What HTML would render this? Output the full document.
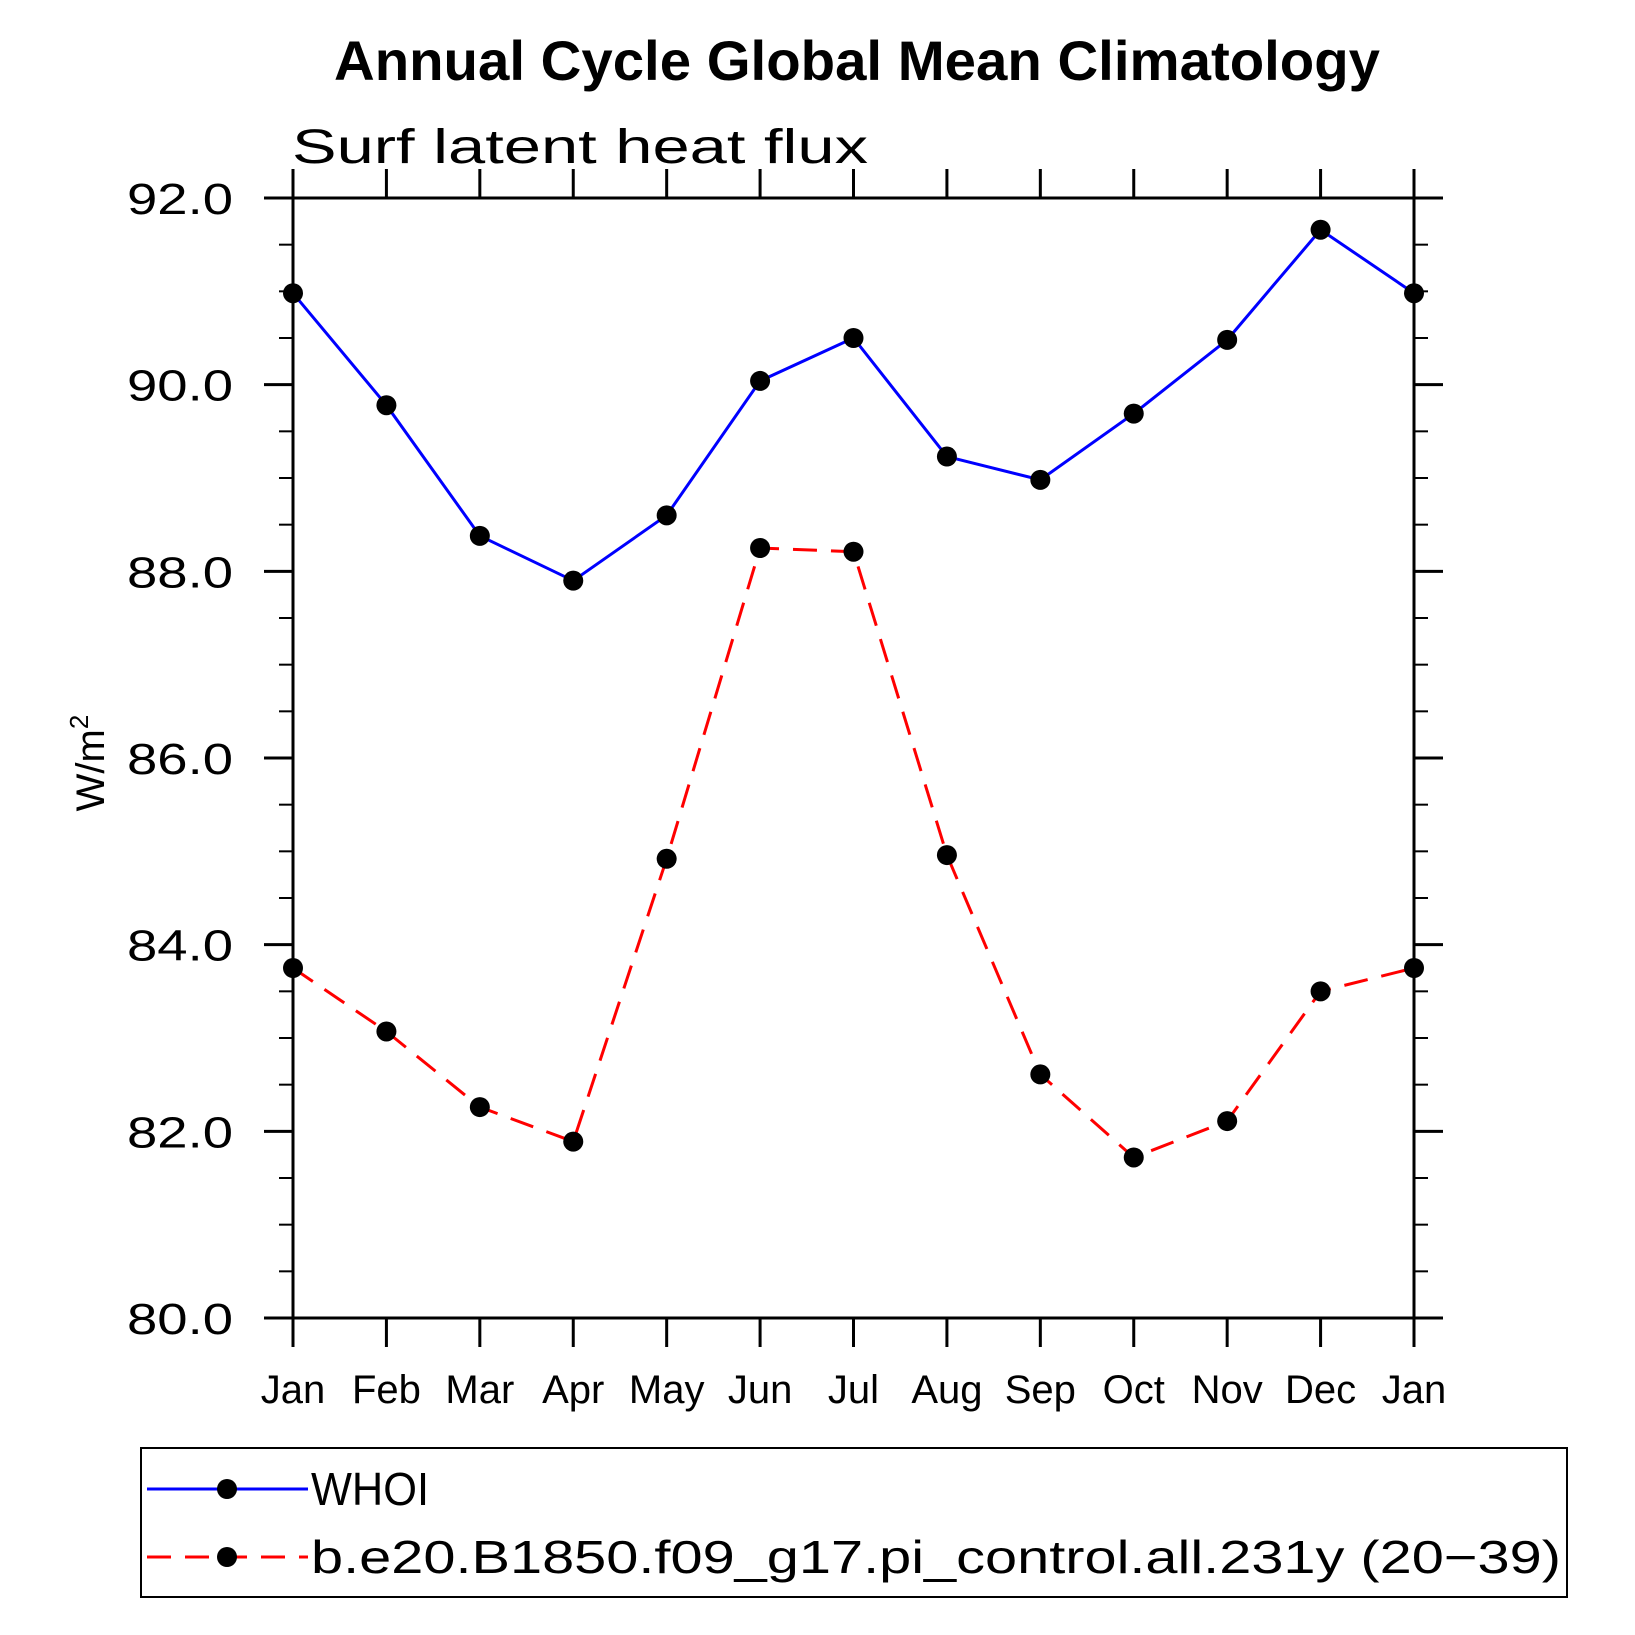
<!DOCTYPE html>
<html><head><meta charset="utf-8"><style>
html,body{margin:0;padding:0;background:#fff;}
svg{display:block;font-family:"Liberation Sans",sans-serif;}
</style></head><body>
<svg id="chart" width="1635" height="1635" viewBox="0 0 1635 1635">
<text x="857" y="80" text-anchor="middle" font-size="56" font-weight="bold" textLength="1046" lengthAdjust="spacingAndGlyphs">Annual Cycle Global Mean Climatology</text>
<text x="292" y="163" font-size="48" textLength="576" lengthAdjust="spacingAndGlyphs">Surf latent heat flux</text>
<text transform="translate(104,763) rotate(-90)" text-anchor="middle" font-size="40">W/m<tspan dy="-16" font-size="26">2</tspan></text>
<g id="axes"></g>
<g id="series"></g>
<g id="legend">
<rect x="141" y="1448" width="1426" height="149" fill="none" stroke="#000" stroke-width="2"/>
<line x1="147" y1="1489" x2="308" y2="1489" stroke="#0000ff" stroke-width="3"/>
<circle cx="227" cy="1489" r="10" fill="#000"/>
<text x="311" y="1505" font-size="46" textLength="118" lengthAdjust="spacingAndGlyphs">WHOI</text>
<line x1="147" y1="1557" x2="308" y2="1557" stroke="#ff0000" stroke-width="3" stroke-dasharray="24,14"/>
<circle cx="227" cy="1557" r="10" fill="#000"/>
<text x="311" y="1573" font-size="46" textLength="1250" lengthAdjust="spacingAndGlyphs">b.e20.B1850.f09_g17.pi_control.all.231y (20−39)</text>
</g>
</svg>
<script>
const months = ["Jan","Feb","Mar","Apr","May","Jun","Jul","Aug","Sep","Oct","Nov","Dec","Jan"];
const whoi = [90.98,89.78,88.38,87.90,88.60,90.04,90.50,89.23,88.98,89.69,90.48,91.66,90.98];
const model = [83.75,83.07,82.26,81.89,84.92,88.25,88.21,84.96,82.61,81.72,82.11,83.50,83.75];
const yTicks = [80,82,84,86,88,90,92];
const yTickLabels = ["80.0","82.0","84.0","86.0","88.0","90.0","92.0"];

const L=293,R=1414,T=198,B=1318,yMin=80,yMax=92;
const NS="http://www.w3.org/2000/svg";
function X(i){return L+(R-L)*i/(months.length-1);}
function Y(v){return B-(B-T)*(v-yMin)/(yMax-yMin);}
function mk(tag,attrs,parent){const e=document.createElementNS(NS,tag);for(const k in attrs)e.setAttribute(k,attrs[k]);parent.appendChild(e);return e;}
const axes=document.getElementById('axes'), ser=document.getElementById('series');

let f=mk('rect',{x:L,y:T,width:R-L,height:B-T,fill:'none',stroke:'#000','stroke-width':3},axes);


for(let v=yMin;v<=yMax+1e-9;v+=0.5){
  const major=Math.abs(v-Math.round(v/2)*2)<1e-9;
  const len=major?29:14;
  let t1=mk('line',{x1:L-len,y1:Y(v),x2:L,y2:Y(v),stroke:'#000','stroke-width':major?3:2},axes);
  
  
  let t2=mk('line',{x1:R,y1:Y(v),x2:R+len,y2:Y(v),stroke:'#000','stroke-width':major?3:2},axes);
  
  
}
yTicks.forEach((v,i)=>{
  let t=mk('text',{x:127,y:Y(v)+16,'font-size':44,textLength:106,lengthAdjust:'spacingAndGlyphs'},axes);
  t.textContent=yTickLabels[i];
  
  
});
months.forEach((m,i)=>{
  let a=mk('line',{x1:X(i),y1:B,x2:X(i),y2:B+29,stroke:'#000','stroke-width':3},axes);
  
  
  let b=mk('line',{x1:X(i),y1:T-29,x2:X(i),y2:T,stroke:'#000','stroke-width':3},axes);
  
  
  let t=mk('text',{x:X(i),y:1403,'text-anchor':'middle','font-size':40},axes);
  t.textContent=m;
  
  
});
function drawSeries(vals,color,dash,name){
  const pts=vals.map((v,i)=>X(i)+','+Y(v)).join(' ');
  const attrs={points:pts,fill:'none',stroke:color,'stroke-width':3};
  if(dash)attrs['stroke-dasharray']=dash;
  let p=mk('polyline',attrs,ser);
  
  
  vals.forEach((v,i)=>{
    let c=mk('circle',{cx:X(i),cy:Y(v),r:10,fill:'#000'},ser);
    
    
  });
}
drawSeries(whoi,'#0000ff',null,'whoi');
drawSeries(model,'#ff0000','24,14','model');
</script>
</body></html>
